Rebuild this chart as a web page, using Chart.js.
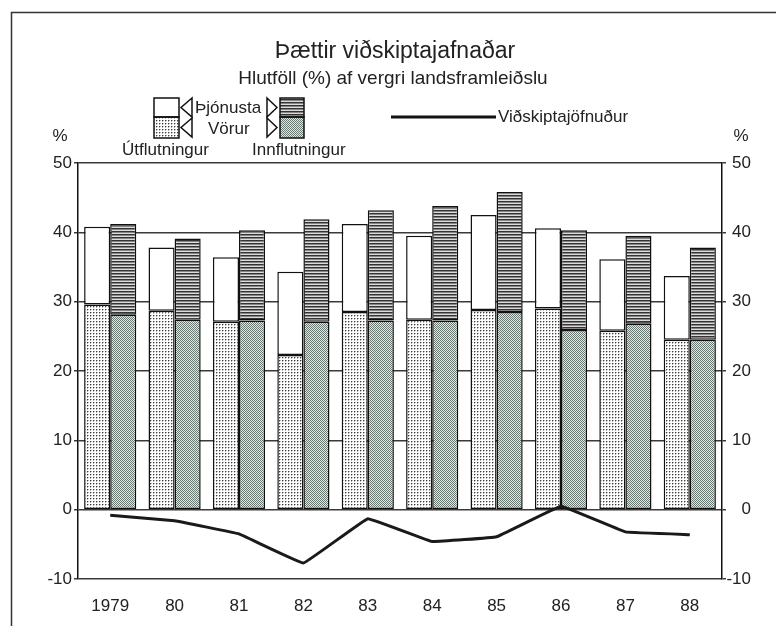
<!DOCTYPE html>
<html>
<head>
<meta charset="utf-8">
<script src="https://cdn.jsdelivr.net/npm/chart.js@4.4.0/dist/chart.umd.min.js"></script>
<style>
  html, body { margin: 0; padding: 0; background: #fff; }
</style>
</head>
<body>
<canvas id="chart" width="776" height="626"></canvas>
<script>
// Data (% of GDP)
const years = ['1979', '80', '81', '82', '83', '84', '85', '86', '87', '88'];
const exportGoods    = [29.6, 28.7, 27.1, 22.3, 28.5, 27.4, 28.8, 29.0, 25.8, 24.5];
const exportServices = [11.2,  9.1,  9.3, 12.0, 12.7, 12.1, 13.7, 11.6, 10.3,  9.2];
const importGoods    = [28.1, 27.4, 27.3, 27.1, 27.3, 27.3, 28.5, 25.9, 26.8, 24.5];
const importServices = [13.1, 11.7, 13.0, 14.8, 15.9, 16.5, 17.3, 14.4, 12.7, 13.3];
const tradeBalance   = [-0.8, -1.6, -3.5, -7.7, -1.3, -4.6, -3.9,  0.5, -3.2, -3.6];
const yMin = -10;
const yMax = 50;
const yStep = 10;

const FONT = "'Liberation Sans', Arial, sans-serif";
const INK = '#222';

const canvas = document.getElementById('chart');
const ctx = canvas.getContext('2d');

// small tiles for the print-style fills
function makePattern(w, h, paint) {
    const tile = document.createElement('canvas');
    tile.width = w;
    tile.height = h;
    paint(tile.getContext('2d'));
    return ctx.createPattern(tile, 'repeat');
}

const dotFill = makePattern(3, 3, g => {
    g.fillStyle = '#ffffff'; g.fillRect(0, 0, 3, 3);
    g.fillStyle = '#b4b4b4'; g.fillRect(1, 0, 1, 1); g.fillRect(0, 1, 1, 1);
    g.fillStyle = '#3c3c3c'; g.fillRect(0, 0, 1, 1);
});
const checkFill = makePattern(2, 2, g => {
    g.fillStyle = '#dde9e3'; g.fillRect(0, 0, 2, 2);
    g.fillStyle = '#6a7a72'; g.fillRect(0, 0, 1, 1); g.fillRect(1, 1, 1, 1);
});
const stripeFill = makePattern(3, 3, g => {
    g.fillStyle = '#333333'; g.fillRect(0, 0, 3, 1);
    g.fillStyle = '#858585'; g.fillRect(0, 1, 3, 1);
    g.fillStyle = '#dcdcdc'; g.fillRect(0, 2, 3, 1);
});

// title, legend, frame and "%" captions
const decorations = {
    id: 'decorations',
    afterDraw(chart) {
        const c = chart.ctx;
        c.save();

        // frame (top and left edge of the scanned box)
        c.strokeStyle = '#333';
        c.lineWidth = 1.5;
        c.beginPath();
        c.moveTo(776, 12.5);
        c.lineTo(11.5, 12.5);
        c.lineTo(11.5, 626);
        c.stroke();

        c.fillStyle = INK;
        c.textBaseline = 'middle';
        c.textAlign = 'center';
        c.font = '23px ' + FONT;
        c.fillText('Þættir viðskiptajafnaðar', 395, 52);
        c.font = '19px ' + FONT;
        c.fillText('Hlutföll (%) af vergri landsframleiðslu', 393, 79);

        c.font = '17px ' + FONT;
        c.fillText('%', 60, 136);
        c.fillText('%', 741, 136);

        // legend boxes
        c.strokeStyle = '#111';
        c.lineWidth = 1.5;
        c.fillStyle = '#fff';
        c.fillRect(154, 98, 25, 19);
        c.fillStyle = dotFill;
        c.fillRect(154, 117, 25, 21);
        c.strokeRect(154, 98, 25, 19);
        c.strokeRect(154, 117, 25, 21);

        c.fillStyle = stripeFill;
        c.fillRect(280, 98, 24, 19);
        c.fillStyle = checkFill;
        c.fillRect(280, 117, 24, 21);
        c.strokeRect(280, 98, 24, 19);
        c.strokeRect(280, 117, 24, 21);

        // little pointers
        const tri = (pts) => {
            c.beginPath();
            c.moveTo(pts[0], pts[1]);
            c.lineTo(pts[2], pts[3]);
            c.lineTo(pts[4], pts[5]);
            c.closePath();
            c.stroke();
        };
        tri([192, 98, 181, 107.5, 192, 117]);
        tri([192, 118, 181, 127.5, 192, 137]);
        tri([267, 98, 277, 107.5, 267, 117]);
        tri([267, 118, 277, 127.5, 267, 137]);

        c.fillStyle = INK;
        c.textAlign = 'left';
        c.font = '17px ' + FONT;
        c.fillText('Þjónusta', 195, 108);
        c.fillText('Vörur', 208, 129);
        c.fillText('Útflutningur', 122, 150);
        c.fillText('Innflutningur', 252, 150);

        c.strokeStyle = '#111';
        c.lineWidth = 3;
        c.beginPath();
        c.moveTo(391, 117);
        c.lineTo(496, 117);
        c.stroke();
        c.fillText('Viðskiptajöfnuður', 498, 117);

        c.restore();
    }
};

const tickFont = { family: FONT, size: 17 };

new Chart(canvas, {
    type: 'bar',
    data: {
        labels: years,
        datasets: [
            {
                label: 'Útflutningur vörur',
                data: exportGoods,
                stack: 'exp',
                backgroundColor: dotFill,
                borderColor: '#111',
                borderWidth: 1.5,
                borderSkipped: false,
                order: 1
            },
            {
                label: 'Útflutningur þjónusta',
                data: exportServices,
                stack: 'exp',
                backgroundColor: '#ffffff',
                borderColor: '#111',
                borderWidth: 1.5,
                borderSkipped: false,
                order: 1
            },
            {
                label: 'Innflutningur vörur',
                data: importGoods,
                stack: 'imp',
                backgroundColor: checkFill,
                borderColor: '#111',
                borderWidth: 1.5,
                borderSkipped: false,
                order: 1
            },
            {
                label: 'Innflutningur þjónusta',
                data: importServices,
                stack: 'imp',
                backgroundColor: stripeFill,
                borderColor: '#111',
                borderWidth: 1.5,
                borderSkipped: false,
                order: 1
            },
            {
                type: 'line',
                label: 'Viðskiptajöfnuður',
                data: tradeBalance,
                stack: 'bal',
                borderColor: '#1a1a1a',
                borderWidth: 3,
                pointRadius: 0,
                tension: 0.05,
                fill: false,
                order: 0
            }
        ]
    },
    options: {
        responsive: false,
        animation: false,
        layout: {
            padding: { left: 12, right: 25, top: 163, bottom: 6 }
        },
        plugins: {
            legend: { display: false },
            title: { display: false },
            tooltip: { enabled: false }
        },
        datasets: {
            bar: { categoryPercentage: 0.81, barPercentage: 1.0 }
        },
        scales: {
            x: {
                stacked: true,
                grid: { display: false, drawTicks: false },
                border: { display: false },
                ticks: { font: tickFont, color: INK, padding: 17, maxRotation: 0 },
                afterFit: s => { s.height = 41; }
            },
            y: {
                position: 'left',
                stacked: true,
                min: yMin,
                max: yMax,
                ticks: { stepSize: yStep, font: tickFont, color: INK, padding: 2 },
                grid: { color: '#3a3a3a', lineWidth: 1.5, tickLength: 4, drawTicks: true },
                border: { color: '#111', width: 1.5 },
                afterFit: s => { s.width = 66; }
            },
            y2: {
                position: 'right',
                min: yMin,
                max: yMax,
                ticks: { stepSize: yStep, font: tickFont, color: INK, padding: 2, crossAlign: 'far' },
                grid: { drawOnChartArea: false, color: '#3a3a3a', lineWidth: 1.5, tickLength: 4 },
                border: { color: '#111', width: 1.5 },
                afterFit: s => { s.width = 29; }
            }
        }
    },
    plugins: [decorations]
});
</script>
</body>
</html>
